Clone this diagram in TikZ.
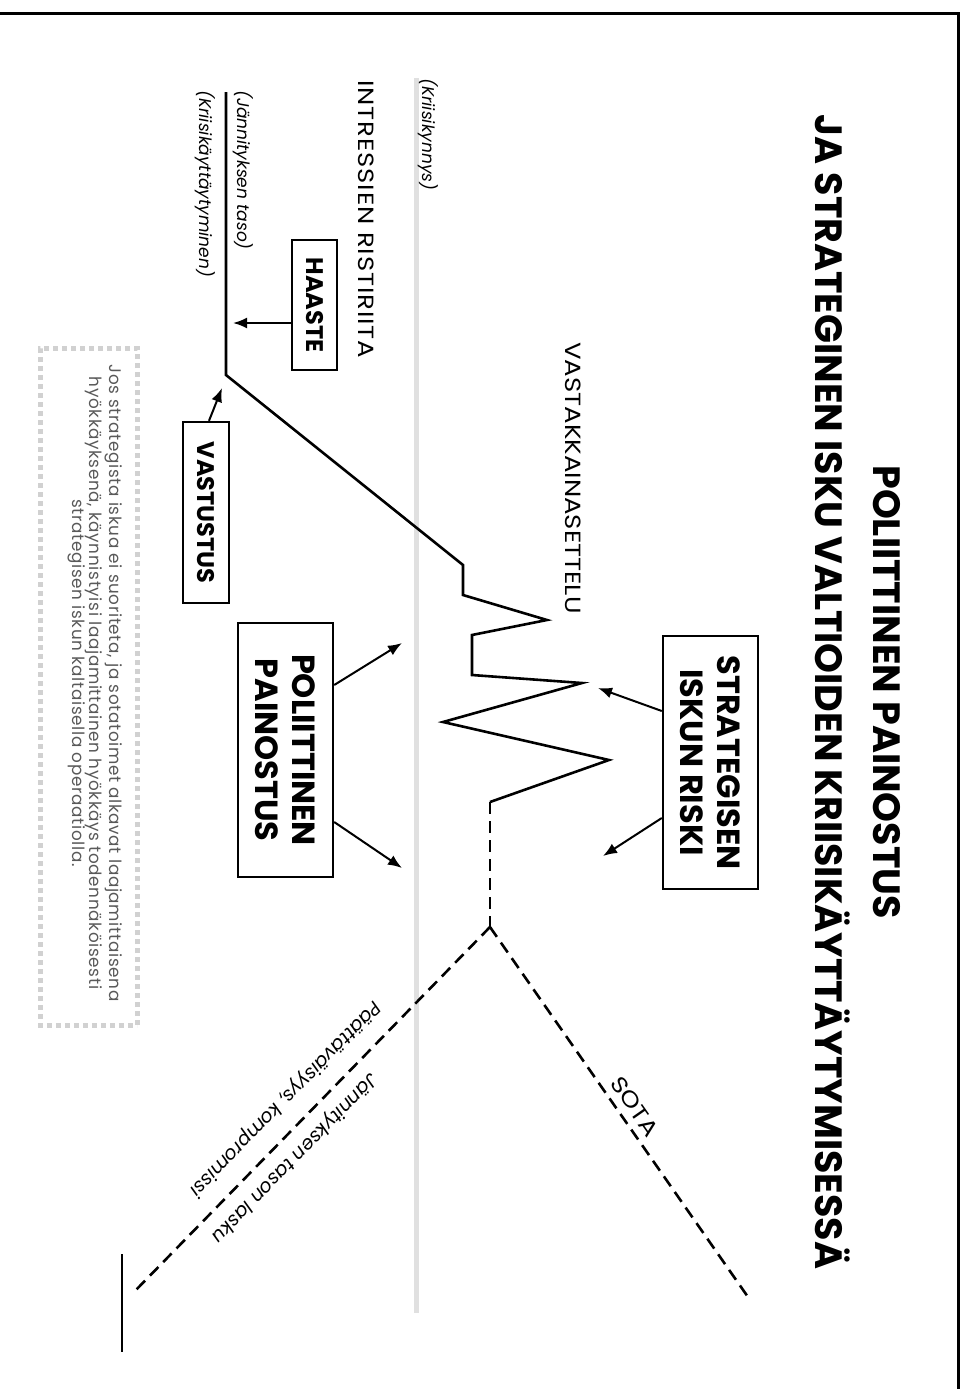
\documentclass[tikz,border=0pt]{standalone}
\usepackage{fontspec}
\setmainfont{Poppins}
\newfontfamily\levea[FakeStretch=1.18]{Poppins}
\newfontfamily\huomiofont[LetterSpace=4]{Poppins}
\usetikzlibrary{arrows,arrows.meta,positioning}
\definecolor{kynnys}{gray}{0.88}
\definecolor{huomio}{gray}{0.35}
\definecolor{reuna}{gray}{0.82}

\begin{document}
\begin{tikzpicture}[x=0.5pt,y=-0.5pt,
  pysty/.style={rotate=-90,inner sep=0pt},
  laatikko/.style={draw,line width=1.2pt,rotate=-90,inner sep=0pt,align=center,
    font=\fontsize{12}{14}\selectfont\bfseries},
  isolaatikko/.style={laatikko,font=\fontsize{16}{18.5}\selectfont\bfseries},
  nuoli/.style={-{Latex[length=7pt,width=5.5pt]},line width=1pt},
  katko/.style={line width=1.3pt,dash pattern=on 6pt off 3.5pt},
  vino/.style={sloped,allow upside down,inner sep=5pt,font=\fontsize{9.5}{11}\selectfont\itshape}]%
\useasboundingbox (0,0) rectangle (972,1389);
%% kehys
\coordinate (k1) at (0,13); \coordinate (k2) at (958,13); \coordinate (k3) at (958,1389);
\draw[line width=1.5pt] (k1)--(k2)--(k3);
%% otsikko
\begin{scope}[font=\fontsize{19}{23}\selectfont\bfseries]%
\node[pysty] (otsikko1) at (887,692) {POLIITTINEN PAINOSTUS}; %%
\node[pysty] (otsikko2) at (833,692) {JA STRATEGINEN ISKU VALTIOIDEN KRIISIKÄYTTÄYTYMISESSÄ}; %%
\end{scope}
%% kriisikynnys
\coordinate (g1) at (416,78); \coordinate (g2) at (416,1313);
\draw[kynnys,line width=2.5pt] (g1)--(g2);
\begin{scope}[font=\fontsize{8.5}{10}\selectfont\itshape]%
\node[pysty,anchor=west] (kynnys) at (428,78) {(Kriisikynnys)}; %%
\node[pysty,anchor=west] (taso) at (243,90) {(Jännityksen taso)}; %%
\node[pysty,anchor=west] (kaytos) at (205,90) {(Kriisikäyttäytyminen)}; %%
\end{scope}
\node[pysty,anchor=west,font=\fontsize{11}{13}\levea\addfontfeature{LetterSpace=4}] (ristiriita) at (366,80) {INTRESSIEN RISTIRIITA}; %%
\node[pysty,anchor=west,font=\fontsize{11}{13}\levea] (vastakkain) at (573,342) {VASTAKKAINASETTELU}; %%
%% laatikot
\node[laatikko,minimum width=65pt,minimum height=22.5pt] (haaste) at (314.5,305) {HAASTE}; %%
\node[laatikko,minimum width=90.5pt,minimum height=23pt] (vastustus) at (206,512.5) {VASTUSTUS}; %%
\node[isolaatikko,minimum width=127pt,minimum height=47.5pt] (painostus) at (285.5,750) {POLIITTINEN\\PAINOSTUS}; %%
\node[isolaatikko,minimum width=126.5pt,minimum height=47.5pt] (riski) at (710.5,762.5) {STRATEGISEN\\ISKUN RISKI}; %%
%% huomautus
\node[rotate=-90,draw=reuna,line width=2.5pt,dash pattern=on 2.5pt off 2pt,
  minimum width=338.5pt,minimum height=48.5pt] (laatu) at (88.5,686.5) {}; %%
\node[pysty,align=center,text=huomio,font=\fontsize{8.4}{8.6}\huomiofont] (huomautus) at (95,683)
  {Jos strategista iskua ei suoriteta, ja sotatoimet alkavat laajamittaisena\\
   hyökkäyksenä, käynnistyisi laajamittainen hyökkäys todennäköisesti\\
   strategisen iskun kaltaisella operaatiolla.}; %%
%% jannityksen kulku
\coordinate (j1) at (226,92);
\coordinate (j2) at (226,375);
\coordinate (j3) at (463,565);
\coordinate (j4) at (463,595);
\coordinate (j5) at (547,620);
\coordinate (j6) at (472,635);
\coordinate (j7) at (472,675);
\coordinate (j8) at (582,683);
\coordinate (j9) at (443,722);
\coordinate (j10) at (609,760);
\coordinate (j11) at (490,802);
\coordinate (j12) at (490,927);
\coordinate (j13) at (133,1293);
\coordinate (j14) at (748,1297);
\draw[line width=1.3pt] (j1)--(j2)--(j3)--(j4)--(j5)--(j6)--(j7)--(j8)--(j9)--(j10)--(j11);
\draw[katko] (j11)--(j12);
\draw[katko] (j12)--(j14) node[pos=0.51,sloped,anchor=south,inner sep=3.5pt,
  font=\fontsize{11}{13}\levea] (sota) {SOTA};
\draw[katko] (j12)--(j13)
  node[vino,pos=0.59,anchor=south] (lasku) {Jännityksen tason lasku}
  node[vino,pos=0.52,anchor=north,inner sep=8pt] (kompromissi) {Päättäväisyys, kompromissi};
\coordinate (m1) at (122,1254); \coordinate (m2) at (122,1352);
\draw[line width=1.2pt] (m1)--(m2);
%% nuolet
\coordinate (hk) at (233,323);
\coordinate (vk) at (222,388);
\coordinate (pk1) at (402,643);
\coordinate (pk2) at (402,868);
\coordinate (rk1) at (598,688);
\coordinate (rk2) at (603,856);
\draw[nuoli] ([yshift=-9pt]haaste.south)--(hk);
\draw[nuoli] ([xshift=1.5pt]vastustus.west)--(vk);
\draw[nuoli] ([yshift=32.5pt]painostus.north)--(pk1);
\draw[nuoli] ([yshift=-36pt]painostus.north)--(pk2);
\draw[nuoli] ([yshift=25.75pt]riski.south)--(rk1);
\draw[nuoli] ([yshift=-27.75pt]riski.south)--(rk2);
\end{tikzpicture}
\end{document}
